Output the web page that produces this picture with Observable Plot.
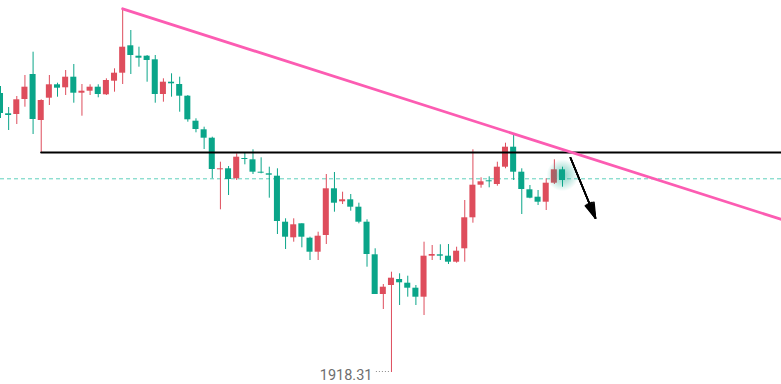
<!DOCTYPE html>
<html>
<head>
<meta charset="utf-8">
<script src="https://cdn.jsdelivr.net/npm/d3@7"></script>
<script src="https://cdn.jsdelivr.net/npm/@observablehq/plot@0.6"></script>
<style>
  html, body { margin: 0; padding: 0; background: #ffffff; }
  #chart svg { display: block; }
</style>
</head>
<body>
<div id="chart"></div>
<script>
// OHLC values (price units)
const opens  = [1946.21,1944.18,1944.11,1945.61,1948.11,1943.51,1945.74,1947.08,1946.78,1947.84,
                1946.24,1946.44,1946.84,1946.08,1947.44,1948.24,1950.98,1949.94,1949.94,1949.58,
                1946.11,1947.34,1947.11,1945.94,1943.44,1942.58,1941.74,1938.58,1938.68,1937.68,
                1939.71,1939.58,1938.34,1938.18,1937.94,1933.34,1931.78,1933.18,1931.74,1930.34,
                1932.01,1936.68,1935.38,1935.58,1934.84,1933.34,1930.08,1926.11,1927.01,1927.61,
                1927.24,1926.74,1925.84,1929.94,1930.08,1929.94,1929.34,1930.68,1933.78,1937.04,
                1937.48,1937.11,1938.84,1940.84,1938.34,1936.58,1935.84,1935.34,1937.24,1938.58];
const highs  = [1946.91,1944.81,1945.91,1948.01,1950.34,1945.58,1948.01,1947.24,1948.51,1949.11,
                1947.11,1947.08,1947.08,1947.68,1948.68,1954.68,1952.51,1950.84,1950.01,1950.01,
                1947.68,1948.18,1947.84,1946.01,1943.68,1942.84,1941.84,1939.34,1938.91,1940.18,
                1940.24,1940.58,1939.78,1938.84,1938.68,1933.68,1933.68,1933.18,1931.84,1932.34,
                1938.11,1938.31,1936.34,1936.11,1935.24,1933.58,1930.68,1927.11,1928.34,1928.18,
                1927.94,1927.01,1931.34,1931.01,1931.08,1931.11,1930.84,1935.51,1940.58,1937.78,
                1937.88,1939.34,1941.24,1942.18,1938.68,1937.01,1936.51,1937.68,1939.58,1938.84];
const lows   = [1943.71,1942.51,1943.11,1944.84,1942.11,1940.31,1945.01,1945.84,1946.01,1945.24,
                1943.94,1946.01,1945.78,1946.01,1946.34,1947.11,1948.11,1948.84,1947.34,1945.24,
                1945.34,1945.84,1944.34,1943.34,1942.28,1940.61,1937.68,1934.58,1936.01,1937.51,
                1939.08,1938.11,1938.18,1935.74,1932.11,1930.61,1931.34,1930.78,1929.51,1929.51,
                1931.11,1934.34,1935.11,1934.44,1933.18,1928.84,1926.11,1924.61,1918.31,1925.01,
                1925.84,1925.01,1924.01,1929.51,1929.51,1929.11,1929.24,1929.34,1933.24,1936.74,
                1936.78,1936.94,1938.68,1937.51,1934.11,1935.68,1935.01,1934.51,1937.11,1936.84];
const closes = [1944.21,1944.01,1945.58,1946.84,1943.61,1945.51,1947.08,1946.74,1947.84,1946.24,
                1946.44,1946.84,1946.11,1947.51,1948.24,1950.84,1950.01,1949.74,1949.51,1946.11,
                1947.34,1947.18,1945.94,1943.58,1942.61,1941.74,1938.61,1938.68,1937.61,1939.84,
                1939.61,1938.34,1938.24,1938.04,1933.41,1931.84,1933.08,1931.84,1930.34,1931.94,
                1936.68,1935.24,1935.58,1934.84,1933.34,1930.11,1926.11,1926.84,1927.74,1927.28,
                1926.74,1925.84,1929.94,1930.11,1929.94,1929.34,1930.44,1933.78,1937.04,1937.38,
                1937.38,1938.84,1940.84,1938.34,1936.61,1935.74,1935.34,1937.24,1938.58,1937.51];

// Drawn lines (candle index, price)
const trendLine   = [[15, 1954.68], [95.9, 1933.61]];    // pink resistance
const supportLine = [[5, 1940.31], [95.9, 1940.31]];     // black horizontal
const priceLine   = [1937.68];                           // dashed current price
const arrowLine   = [[69.98, 1939.78], [73.05, 1933.74]];// projected move

const RED = "#de4d5c", GREEN = "#0aa589";

const candles = opens.map((o, i) => ({
  i, o, h: highs[i], l: lows[i], c: closes[i], up: closes[i] > opens[i]
}));
const last = candles[candles.length - 1];
const rest = candles.slice(0, -1);
const ups = rest.filter(d => d.up), downs = rest.filter(d => !d.up);
const lowIdx = d3.minIndex(lows);
const lowVal = lows[lowIdx];

const bodyLo = d => Math.min(d.o, d.c);
const bodyHi = d => Math.max(d.o, d.c, Math.min(d.o, d.c) + 0.1);
const HW = 0.37;
const colorOf = d => d.up ? RED : GREEN;

const svg = Plot.plot({
  width: 781,
  height: 384,
  margin: 0,
  x: { domain: [0, 95.887], axis: null },
  y: { domain: [1917.11, 1955.51], axis: null },
  marks: [
    Plot.ruleY(priceLine, { stroke: "#5fd0bd", strokeWidth: 1, strokeDasharray: "4,3" }),
    Plot.ruleX(ups,   { x: "i", y1: "l", y2: "h", stroke: RED, strokeWidth: 1 }),
    Plot.ruleX(downs, { x: "i", y1: "l", y2: "h", stroke: GREEN, strokeWidth: 1 }),
    Plot.rect(ups,   { x1: d => d.i - HW, x2: d => d.i + HW, y1: bodyLo, y2: bodyHi, fill: RED }),
    Plot.rect(downs, { x1: d => d.i - HW, x2: d => d.i + HW, y1: bodyLo, y2: bodyHi, fill: GREEN }),
    // glow behind the live candle
    Plot.dot([last], { x: "i", y: d => (d.o + d.c) / 2, r: 16, fill: "url(#glow)" }),
    Plot.ruleX([last], { x: "i", y1: "l", y2: "h", stroke: colorOf(last), strokeWidth: 1 }),
    Plot.rect([last], { x1: d => d.i - HW, x2: d => d.i + HW, y1: bodyLo, y2: bodyHi, fill: colorOf(last) }),
    Plot.line(supportLine, { x: d => d[0], y: d => d[1], stroke: "#000000", strokeWidth: 2.2 }),
    Plot.line(trendLine, { x: d => d[0], y: d => d[1], stroke: "#fc5cb2", strokeWidth: 2.8 }),
    ...[34, 26, 18, 10, 4].map(a =>
      Plot.arrow([arrowLine], {
        x1: d => d[0][0], y1: d => d[0][1], x2: d => d[1][0], y2: d => d[1][1],
        stroke: "#000000", strokeWidth: 1.6, headLength: 15, headAngle: a, bend: 0
      })
    ),
    Plot.ruleY([lowVal], { x1: lowIdx - 1.85, x2: lowIdx - 0.2, stroke: "#8a8a8a", strokeWidth: 1, strokeDasharray: "1,2", dy: -1 }),
    Plot.text([lowVal], {
      x: lowIdx, y: d => d, text: d => d3.format(".2f")(d),
      textAnchor: "end", dx: -19, dy: 3, fontSize: 14.5, fill: "#6e6e6e",
      fontFamily: "Roboto, 'Open Sans', sans-serif"
    })
  ]
});

// radial glow definition for the live candle
const defs = d3.select(svg).insert("defs", ":first-child");
const grad = defs.append("radialGradient").attr("id", "glow");
grad.append("stop").attr("offset", "0%").attr("stop-color", GREEN).attr("stop-opacity", 0.5);
grad.append("stop").attr("offset", "55%").attr("stop-color", GREEN).attr("stop-opacity", 0.25);
grad.append("stop").attr("offset", "100%").attr("stop-color", GREEN).attr("stop-opacity", 0);

document.getElementById("chart").appendChild(svg);
</script>
</body>
</html>
